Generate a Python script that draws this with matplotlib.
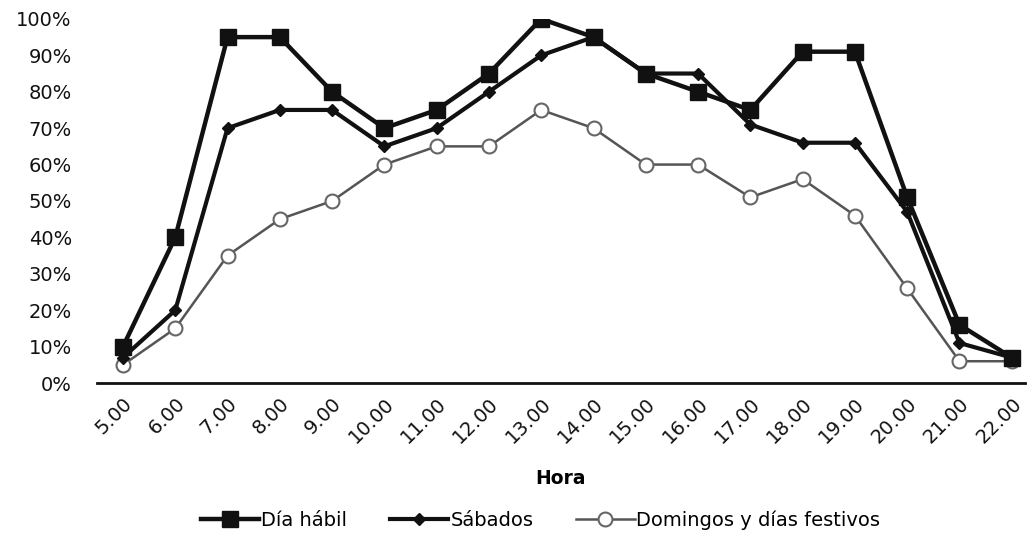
import matplotlib.pyplot as plt
from matplotlib.ticker import PercentFormatter

# Ocupación por hora del día
horas = ['5.00', '6.00', '7.00', '8.00', '9.00', '10.00', '11.00', '12.00', '13.00',
         '14.00', '15.00', '16.00', '17.00', '18.00', '19.00', '20.00', '21.00', '22.00']
dia_habil = [10, 40, 95, 95, 80, 70, 75, 85, 100, 95, 85, 80, 75, 91, 91, 51, 16, 7]
sabados = [7, 20, 70, 75, 75, 65, 70, 80, 90, 95, 85, 85, 71, 66, 66, 47, 11, 7]
domingos = [5, 15, 35, 45, 50, 60, 65, 65, 75, 70, 60, 60, 51, 56, 46, 26, 6, 6]

plt.rcParams['font.family'] = ['DejaVu Sans']

fig = plt.figure(figsize=(10.30, 5.56), dpi=100)
ax = fig.add_axes([0.094, 0.311, 0.901, 0.655])

x = range(len(horas))
ax.plot(x, dia_habil, color='#111111', lw=3.2, marker='s', markersize=11,
        markerfacecolor='#111111', markeredgecolor='#111111', label='Día hábil', zorder=4)
ax.plot(x, sabados, color='#111111', lw=3.0, marker='D', markersize=6,
        markerfacecolor='#111111', markeredgecolor='#111111', label='Sábados', zorder=3)
ax.plot(x, domingos, color='#555555', lw=1.8, marker='o', markersize=10,
        markerfacecolor='white', markeredgecolor='#666666', markeredgewidth=1.5,
        label='Domingos y días festivos', zorder=2)

ax.set_xlim(-0.5, 17.25)
ax.set_ylim(0, 100)
ax.set_yticks(range(0, 101, 10))
ax.yaxis.set_major_formatter(PercentFormatter(decimals=0))
ax.set_xticks(list(x))
ax.set_xticklabels(horas, rotation=45, ha='right', va='top', rotation_mode='anchor')

for s in ['top', 'right', 'left']:
    ax.spines[s].set_visible(False)
ax.spines['bottom'].set_linewidth(2)
ax.spines['bottom'].set_color('#111111')
ax.tick_params(axis='both', length=0, labelsize=14, colors='#111111')
ax.tick_params(axis='y', pad=18)
ax.tick_params(axis='x', pad=8)

ax.set_xlabel('Hora', fontsize=13.5, fontweight='bold', labelpad=16)

fig.legend(loc='center', bbox_to_anchor=(0.525, 0.065), ncol=3, frameon=False,
           fontsize=14, handlelength=3.0, handletextpad=0.1, columnspacing=2.2)

fig.savefig('out.png', dpi=100)
